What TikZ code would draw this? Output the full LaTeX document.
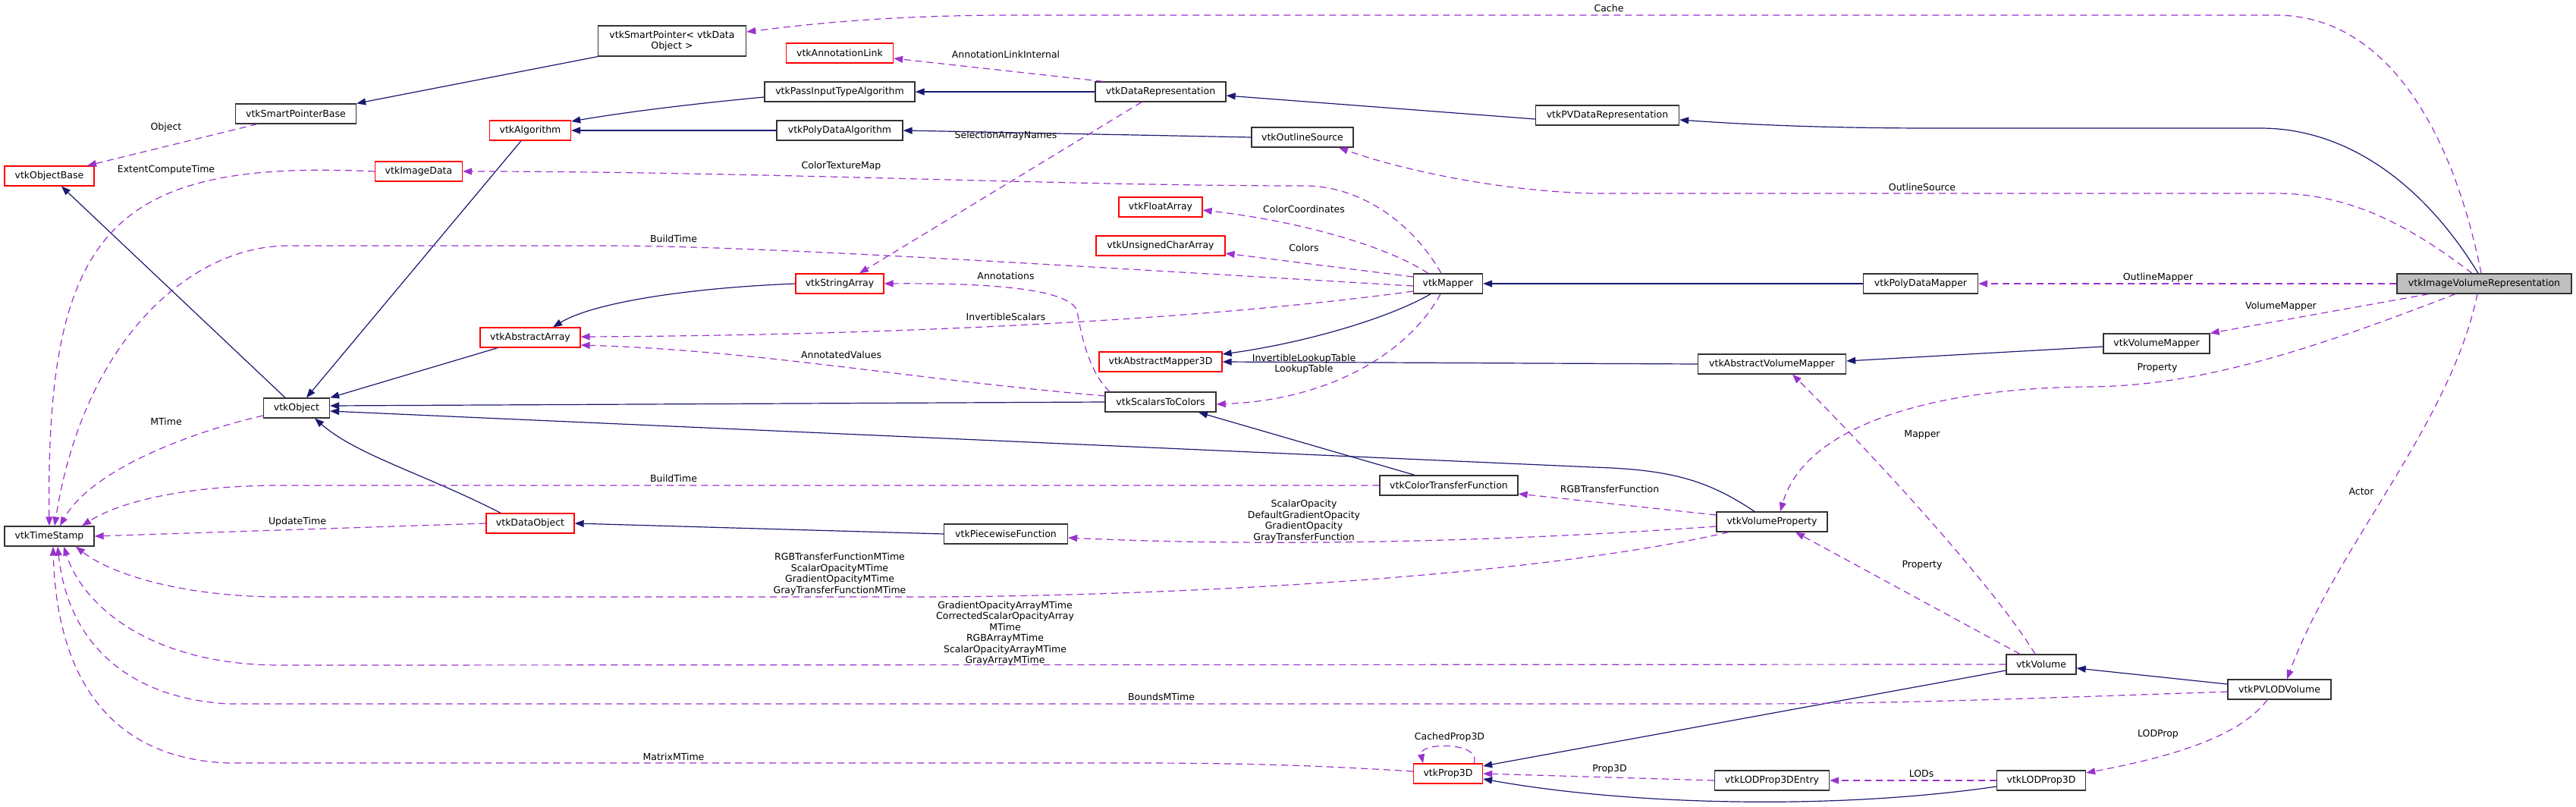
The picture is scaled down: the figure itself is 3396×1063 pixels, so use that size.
\documentclass[tikz,border=0pt]{standalone}
\usepackage{fontspec}
\setmainfont{DejaVu Sans}
\usetikzlibrary{arrows.meta}
\definecolor{inhblue}{HTML}{191970}
\definecolor{assocpurple}{HTML}{9A32CD}
\definecolor{maingray}{HTML}{BFBFBF}

\begin{document}
\begin{tikzpicture}[
    x=1pt, y=-1pt,
    font=\fontsize{12.5}{14}\selectfont,
    cls/.style={draw=black!80, line width=1.3pt, fill=white, minimum height=26pt, inner xsep=3pt, inner ysep=0pt},
    redcls/.style={cls, draw=red},
    maincls/.style={cls, fill=maingray},
    inh/.style={draw=inhblue, line width=1.2pt, -{Triangle[length=12pt,width=9pt]}},
    assoc/.style={draw=assocpurple, line width=1.2pt, dash pattern=on 9pt off 6pt, -{Triangle[length=12pt,width=9pt]}},
    lbl/.style={inner sep=1pt, align=center, font=\fontsize{12.5}{14.5}\selectfont}
]
\useasboundingbox (0,0) rectangle (3396,1063);

\node[cls, minimum width=195pt, minimum height=40pt, align=center] (spdo) at (886,54) {vtkSmartPointer< vtkData\\Object >};
\node[cls, minimum width=159pt] (spbase) at (390,150) {vtkSmartPointerBase};
\node[redcls, minimum width=118pt] (objbase) at (65,232) {vtkObjectBase};
\node[redcls, minimum width=107pt] (algo) at (699,172) {vtkAlgorithm};
\node[redcls, minimum width=115pt] (imgdata) at (552,226) {vtkImageData};
\node[redcls, minimum width=132pt] (absarray) at (699,445) {vtkAbstractArray};
\node[cls, minimum width=87pt] (obj) at (391,538) {vtkObject};
\node[cls, minimum width=118pt] (ts) at (65,707) {vtkTimeStamp};
\node[redcls, minimum width=116pt] (dataobj) at (699,690) {vtkDataObject};
\node[redcls, minimum width=141pt] (annlink) at (1107,70) {vtkAnnotationLink};
\node[cls, minimum width=198pt] (passin) at (1107,121) {vtkPassInputTypeAlgorithm};
\node[cls, minimum width=172pt] (datarep) at (1530,121) {vtkDataRepresentation};
\node[cls, minimum width=166pt] (pdalgo) at (1107,172) {vtkPolyDataAlgorithm};
\node[cls, minimum width=134pt] (outline) at (1717,181) {vtkOutlineSource};
\node[redcls, minimum width=110pt] (floatarr) at (1530,273) {vtkFloatArray};
\node[redcls, minimum width=170pt] (ucarr) at (1530,324) {vtkUnsignedCharArray};
\node[redcls, minimum width=116pt] (strarr) at (1107,374) {vtkStringArray};
\node[redcls, minimum width=162pt] (am3d) at (1530,477) {vtkAbstractMapper3D};
\node[cls, minimum width=146pt] (s2c) at (1530,530) {vtkScalarsToColors};
\node[cls, minimum width=163pt] (pwf) at (1326,704) {vtkPiecewiseFunction};
\node[cls, minimum width=189pt] (pvdrep) at (2119,152) {vtkPVDataRepresentation};
\node[cls, minimum width=91pt] (mapper) at (1909,374) {vtkMapper};
\node[cls, minimum width=151pt] (pdmapper) at (2532,374) {vtkPolyDataMapper};
\node[cls, minimum width=195pt] (avm) at (2336,480) {vtkAbstractVolumeMapper};
\node[cls, minimum width=182pt] (ctf) at (1910,640) {vtkColorTransferFunction};
\node[cls, minimum width=146pt] (vprop) at (2336,688) {vtkVolumeProperty};
\node[redcls, minimum width=91pt] (prop3d) at (1909,1020) {vtkProp3D};
\node[cls, minimum width=151pt] (lodentry) at (2336,1029) {vtkLODProp3DEntry};
\node[maincls, minimum width=230pt] (ivr) at (3275,374) {vtkImageVolumeRepresentation};
\node[cls, minimum width=140pt] (vmapper) at (2843,453) {vtkVolumeMapper};
\node[cls, minimum width=92pt] (volume) at (2691,876) {vtkVolume};
\node[cls, minimum width=136pt] (pvlod) at (3005,909) {vtkPVLODVolume};
\node[cls, minimum width=117pt] (lodprop) at (2691,1029) {vtkLODProp3D};

\draw[inh] (spdo.south west) -- (spbase.north east);
\draw[inh] ([xshift=-15pt]obj.north) -- ([xshift=16pt]objbase.south);
\draw[inh] ([xshift=-12pt]algo.south) -- ([xshift=13pt]obj.north);
\draw[inh] ([xshift=-43pt]absarray.south) -- (obj.north east);
\draw[inh] (s2c.west) -- ([yshift=3pt]obj.east);
\draw[inh] ([xshift=-23pt]vprop.north) .. controls (2250,632) and (2200,619) .. (2100,616) -- ([yshift=-4pt]obj.east);
\draw[inh] ([xshift=-39pt]dataobj.north) .. controls (560,625) and (470,600) .. ([xshift=24pt]obj.south);
\draw[inh] ([yshift=-7pt]passin.west) .. controls (880,140) and (800,152) .. ([yshift=12pt]algo.east);
\draw[inh] (pdalgo) -- (algo);
\draw[inh] (datarep) -- (passin);
\draw[inh] (outline.west) -- (pdalgo.east);
\draw[inh] ([yshift=-5pt]pvdrep.west) -- ([yshift=-5pt]datarep.east);
\draw[inh] ([xshift=-8pt]ivr.north) .. controls (3200,250) and (3100,169) .. (2980,169) -- (2550,169) .. controls (2400,169) and (2300,164) .. ([yshift=-6pt]pvdrep.east);
\draw[inh] (strarr.west) .. controls (900,380) and (780,400) .. ([xshift=30pt]absarray.north);
\draw[inh] ([xshift=-23pt]mapper.south) .. controls (1830,420) and (1720,452) .. ([yshift=10pt]am3d.east);
\draw[inh] (avm.west) -- (am3d.east);
\draw[inh] (pdmapper) -- (mapper);
\draw[inh] ([yshift=-4pt]vmapper.west) -- ([yshift=4pt]avm.east);
\draw[inh] ([xshift=-45pt]ctf.north) -- ([xshift=50pt]s2c.south);
\draw[inh] (pwf.west) -- (dataobj.east);
\draw[inh] ([yshift=-8pt]volume.west) -- ([yshift=10pt]prop3d.east);
\draw[inh] ([yshift=7pt]pvlod.west) -- ([yshift=-5pt]volume.east);
\draw[inh] ([yshift=-8pt]lodprop.west) .. controls (2420,1068) and (2150,1062) .. ([yshift=-7pt]prop3d.east);

\draw[assoc] ([xshift=-4pt]ivr.north) .. controls (3235,180) and (3150,20) .. (3000,20) -- (1320,20) .. controls (1150,21) and (1050,34) .. ([yshift=12pt]spdo.east) node[lbl] (lCache) at (2121,11) {Cache};
\draw[assoc] ([xshift=-51pt]spbase.south) -- ([xshift=50pt]objbase.north) node[lbl] (lObject) at (219,168) {Object};
\draw[assoc] (imgdata.west) .. controls (150,210) and (60,300) .. (ts.north) node[lbl] (lExtent) at (219,224) {ExtentComputeTime};
\draw[assoc] ([yshift=-3pt]mapper.west) .. controls (1400,350) and (1000,324) .. (800,324) -- (380,324) .. controls (250,324) and (110,450) .. ([xshift=7pt]ts.north) node[lbl] (lBuildA) at (888,315) {BuildTime};
\draw[assoc] ([yshift=-10pt]obj.west) .. controls (250,570) and (120,620) .. ([xshift=14pt]ts.north) node[lbl] (lMTime) at (219,556) {MTime};
\draw[assoc] (ctf.west) -- (370,640) .. controls (250,640) and (160,660) .. ([xshift=43pt]ts.north) node[lbl] (lBuildB) at (888,631) {BuildTime};
\draw[assoc] (dataobj.west) -- (ts.east) node[lbl] (lUpdate) at (392,688) {UpdateTime};
\draw[assoc] ([xshift=-57pt]vprop.south) .. controls (2000,765) and (1500,787) .. (1200,787) -- (370,787) .. controls (250,787) and (150,760) .. ([xshift=35pt]ts.south) node[lbl] (lPropTimes) at (1107,757) {RGBTransferFunctionMTime\\ScalarOpacityMTime\\GradientOpacityMTime\\GrayTransferFunctionMTime};
\draw[assoc] (volume.west) -- (370,877) .. controls (200,877) and (110,800) .. ([xshift=19pt]ts.south) node[lbl] (lVolTimes) at (1325,835) {GradientOpacityArrayMTime\\CorrectedScalarOpacityArray\\MTime\\RGBArrayMTime\\ScalarOpacityArrayMTime\\GrayArrayMTime};
\draw[assoc] ([yshift=-3pt]pvlod.west) .. controls (2700,920) and (2500,928) .. (2300,928) -- (300,928) .. controls (170,920) and (90,850) .. ([xshift=11pt]ts.south) node[lbl] (lBounds) at (1531,919) {BoundsMTime};
\draw[assoc] ([yshift=3pt]prop3d.west) .. controls (1750,1010) and (1650,1006) .. (1500,1006) -- (300,1006) .. controls (150,1000) and (75,900) .. ([xshift=5pt]ts.south) node[lbl] (lMatrix) at (888,998) {MatrixMTime};
\draw[assoc] ([xshift=-76pt]datarep.north) -- ([yshift=-7pt]annlink.east) node[lbl] (lAnnLink) at (1326,72) {AnnotationLinkInternal};
\draw[assoc] ([xshift=-25pt]datarep.south) -- ([xshift=26pt]strarr.north) node[lbl] (lSelArr) at (1326,179) {SelectionArrayNames};
\draw[assoc] ([xshift=-9pt]mapper.north) .. controls (1860,290) and (1790,245) .. (1720,245) .. controls (1400,245) and (1000,226) .. (imgdata.east) node[lbl] (lTexMap) at (1109,219) {ColorTextureMap};
\draw[assoc] ([xshift=-26pt]mapper.north) .. controls (1820,320) and (1700,290) .. ([yshift=-4pt]floatarr.east) node[lbl] (lColCoord) at (1719,276) {ColorCoordinates};
\draw[assoc] ([yshift=9pt]mapper.west) -- ([yshift=-10pt]ucarr.east) node[lbl] (lColors) at (1719,327) {Colors};
\draw[assoc] ([yshift=-10pt]mapper.west) .. controls (1600,420) and (1200,442) .. ([yshift=1pt]absarray.east) node[lbl] (lInvScal) at (1326,418) {InvertibleScalars};
\draw[assoc] ([xshift=-67pt]s2c.north) .. controls (1435,490) and (1425,440) .. (1420,410) .. controls (1410,380) and (1300,373) .. (strarr.east) node[lbl] (lAnnot) at (1326,364) {Annotations};
\draw[assoc] ([yshift=8pt]s2c.west) .. controls (1200,500) and (1000,462) .. ([yshift=-10pt]absarray.east) node[lbl] (lAnnVal) at (1109,468) {AnnotatedValues};
\draw[assoc] ([xshift=-10pt]mapper.south) .. controls (1860,460) and (1760,527) .. ([yshift=-3pt]s2c.east) node[lbl] (lLut) at (1719,480) {InvertibleLookupTable\\LookupTable};
\draw[assoc] ([xshift=-16pt]ivr.north) .. controls (3180,300) and (3100,255) .. (3000,255) -- (2100,255) .. controls (1980,252) and (1850,225) .. ([xshift=48pt]outline.south) node[lbl] (lOutSrc) at (2534,247) {OutlineSource};
\draw[assoc] (ivr.west) -- (pdmapper.east) node[lbl] (lOutMap) at (2845,366) {OutlineMapper};
\draw[assoc] ([xshift=-73pt]ivr.south) -- (vmapper.north east) node[lbl] (lVolMap) at (3007,404) {VolumeMapper};
\draw[assoc] ([xshift=-38pt]ivr.south) .. controls (3050,460) and (2900,510) .. (2750,510) .. controls (2550,512) and (2380,560) .. ([xshift=11pt]vprop.north) node[lbl] (lPropA) at (2844,485) {Property};
\draw[assoc] ([xshift=-9pt]ivr.south) .. controls (3230,560) and (3080,720) .. ([xshift=10pt]pvlod.north) node[lbl] (lActor) at (3113,648) {Actor};
\draw[assoc] ([yshift=9pt]vprop.west) -- ([yshift=-11pt]ctf.east) node[lbl] (lRGBTF) at (2122,645) {RGBTransferFunction};
\draw[assoc] ([yshift=-6pt]vprop.west) .. controls (1900,720) and (1600,718) .. ([yshift=-5pt]pwf.east) node[lbl] (lOpacity) at (1719,687) {ScalarOpacity\\DefaultGradientOpacity\\GradientOpacity\\GrayTransferFunction};
\draw[assoc] ([xshift=-8pt]volume.north) .. controls (2620,760) and (2440,570) .. ([xshift=27pt]avm.south) node[lbl] (lMapper) at (2534,573) {Mapper};
\draw[assoc] ([xshift=-28pt]volume.north) -- ([xshift=31pt]vprop.south) node[lbl] (lPropB) at (2534,745) {Property};
\draw[assoc] ([xshift=34pt]prop3d.north) .. controls (1955,978) and (1870,978) .. ([xshift=-33pt]prop3d.north) node[lbl] (lCached) at (1911,972) {CachedProp3D};
\draw[assoc] (lodentry.west) -- (prop3d.east) node[lbl] (lProp3D) at (2122,1014) {Prop3D};
\draw[assoc] (lodprop.west) -- (lodentry.east) node[lbl] (lLODs) at (2533,1020) {LODs};
\draw[assoc] ([xshift=-16pt]pvlod.south) .. controls (2950,975) and (2850,1000) .. ([yshift=10pt]lodprop.east) node[lbl] (lLODProp) at (2845,968) {LODProp};

\end{tikzpicture}
\end{document}
